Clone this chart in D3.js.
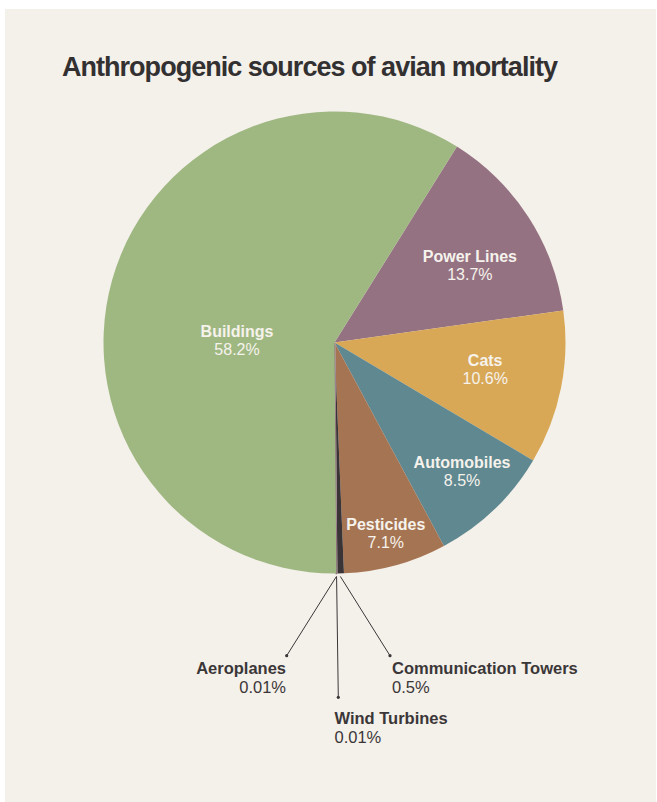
<!DOCTYPE html>
<html>
<head>
<meta charset="utf-8">
<script src="https://cdn.jsdelivr.net/npm/d3@7"></script>
<style>
  body { margin: 0; background: #ffffff; }
  svg { display: block; font-family: "Liberation Sans", Arial, sans-serif; }
</style>
</head>
<body>
<div class="curr-graff"></div>
<script>
// slices, clockwise from the Power Lines edge
const names = ["Power Lines", "Cats", "Automobiles", "Pesticides", "Communication Towers", "Wind Turbines", "Aeroplanes", "Buildings"];
const shares = [13.7, 10.6, 8.5, 7.1, 0.5, 0.01, 0.01, 58.2];
const shareLabels = ["13.7%", "10.6%", "8.5%", "7.1%", "0.5%", "0.01%", "0.01%", "58.2%"];
const colors = ["#957282", "#d8a856", "#5f8890", "#a57452", "#3b3436", "#f4f0ea", "#8d6c7c", "#9fb882"];

// small slices labelled outside the pie
const outside = ["Communication Towers", "Wind Turbines", "Aeroplanes"];

function drawPie() {
    const width = 657;
    const height = 802;
    const cx = 334.5, cy = 342.5;
    const radius = 231;
    const start = 32 * Math.PI / 180;

    const svg = d3.select(".curr-graff")
      .append("svg")
      .attr("width", width)
      .attr("height", height);

    svg.append("rect")
      .attr("x", 5).attr("y", 9)
      .attr("width", 651).attr("height", 793)
      .attr("fill", "#f4f0ea");

    const title = svg.append("text")
      .attr("x", 62).attr("y", 76)
      .attr("font-size", 27)
      .attr("font-weight", "bold")
      .attr("fill", "#333031")
      .text("Anthropogenic sources of avian mortality");
    // fit the title to the width seen in the picture
    const tw = title.node().getComputedTextLength();
    title.attr("letter-spacing", (495 - tw) / 40);

    const data = names.map((n, i) => ({name: n, value: shares[i], label: shareLabels[i], color: colors[i]}));

    const pie = d3.pie()
      .sort(null)
      .value(d => d.value)
      .startAngle(start)
      .endAngle(start + 2 * Math.PI);

    const arcs = pie(data);
    const arc = d3.arc().innerRadius(0).outerRadius(radius);

    const g = svg.append("g").attr("transform", `translate(${cx},${cy})`);

    g.selectAll("path")
      .data(arcs)
      .enter()
      .append("path")
      .attr("d", arc)
      .attr("fill", d => d.data.color)
      .attr("stroke", d => d.data.value < 0.1 ? d.data.color : "none")
      .attr("stroke-width", d => d.data.value < 0.1 ? 1.6 : 0);

    // label spots inside, polar: [angle in degrees from top, distance]
    const inPos = {
      "Buildings": [271.5, 97.5],
      "Power Lines": [60.2, 156],
      "Cats": [100, 153],
      "Automobiles": [135.2, 181],
      "Pesticides": [164.9, 197]
    };

    const inner = arcs.filter(d => inPos[d.data.name]);
    inner.forEach(d => {
      const p = inPos[d.data.name];
      const a = p[0] * Math.PI / 180;
      const x = p[1] * Math.sin(a), y = -p[1] * Math.cos(a);
      const t = g.append("text")
        .attr("text-anchor", "middle")
        .attr("fill", "#f6f2ec")
        .attr("font-size", 16);
      t.append("tspan").attr("x", x).attr("y", y - 3).attr("font-weight", "bold").text(d.data.name);
      t.append("tspan").attr("x", x).attr("y", y + 15).text(d.data.label);
    });

    // leader lines for the slivers
    const outPos = {
      "Communication Towers": {dot: [390, 655.7], anchor: "start", tx: 392, ty: 674},
      "Wind Turbines": {dot: [338.3, 697.3], anchor: "start", tx: 334.5, ty: 724},
      "Aeroplanes": {dot: [286.7, 655.7], anchor: "end", tx: 286, ty: 674}
    };
    const edge = d3.arc().innerRadius(radius + 3).outerRadius(radius + 3);

    arcs.filter(d => outside.includes(d.data.name)).forEach(d => {
      const o = outPos[d.data.name];
      const c = edge.centroid(d);
      svg.append("line")
        .attr("x1", cx + c[0]).attr("y1", cy + c[1])
        .attr("x2", o.dot[0]).attr("y2", o.dot[1])
        .attr("stroke", "#3b3738")
        .attr("stroke-width", 1);
      svg.append("circle")
        .attr("cx", o.dot[0]).attr("cy", o.dot[1])
        .attr("r", 1.6)
        .attr("fill", "#3b3738");
      const t = svg.append("text")
        .attr("text-anchor", o.anchor)
        .attr("fill", "#3b3738")
        .attr("font-size", 16.5);
      t.append("tspan").attr("x", o.tx).attr("y", o.ty).attr("font-weight", "bold").text(d.data.name);
      t.append("tspan").attr("x", o.tx).attr("y", o.ty + 19).text(d.data.label);
    });
}

drawPie();
</script>
</body>
</html>
